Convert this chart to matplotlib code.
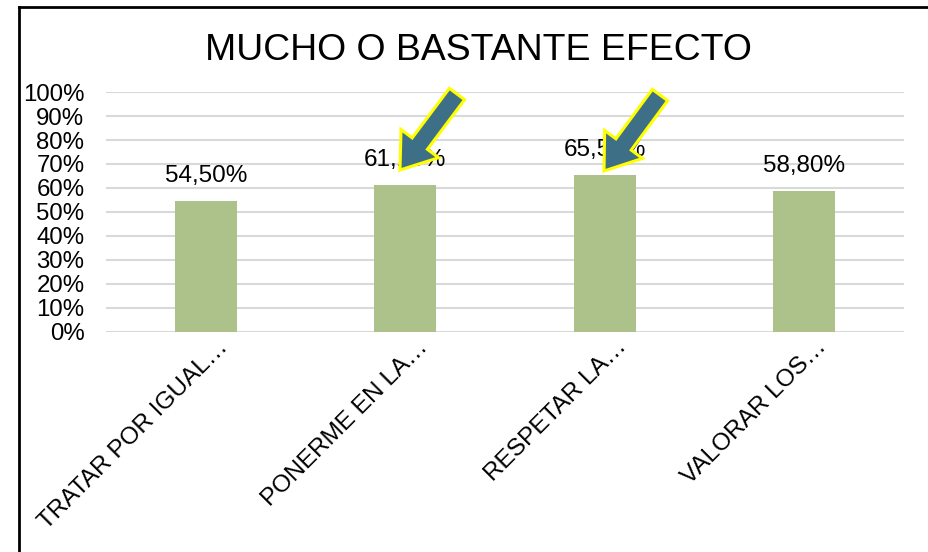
import matplotlib
matplotlib.use("Agg")
import matplotlib.pyplot as plt
import matplotlib.transforms as mtransforms
from matplotlib.patches import FancyArrow
from matplotlib.lines import Line2D
import numpy as np

plt.rcParams['font.family'] = ['Liberation Sans', 'DejaVu Sans']

title = "MUCHO O BASTANTE EFECTO"
categories = ["TRATAR POR IGUAL…", "PONERME EN LA…", "RESPETAR LA…", "VALORAR LOS…"]
values = [54.50, 61.10, 65.50, 58.80]
value_labels = ["54,50%", "61,10%", "65,50%", "58,80%"]
yticks = [0, 10, 20, 30, 40, 50, 60, 70, 80, 90, 100]
ytick_labels = [f"{t}%" for t in yticks]

W, H = 929, 552
fig = plt.figure(figsize=(W / 100, H / 100), dpi=100)
fig.patch.set_facecolor("white")

# frame lines (left and top)
fig.add_artist(Line2D([19 / W, 19 / W], [0, 1 - 7 / H], transform=fig.transFigure, color="black", lw=2))
fig.add_artist(Line2D([19 / W, 1], [1 - 7 / H, 1 - 7 / H], transform=fig.transFigure, color="black", lw=2))

ax = fig.add_axes([106 / W, (H - 332) / H, (904 - 106) / W, (332 - 92) / H])
x = np.arange(len(categories))
bars = ax.bar(x, values, width=0.31, color="#ADC18A", zorder=2)
ax.set_xlim(-0.5, len(categories) - 0.5)
ax.set_ylim(0, 100)
ax.set_yticks(yticks)
ax.set_yticklabels(ytick_labels, fontsize=17.3)
ax.yaxis.grid(True, color="#D9D9D9", lw=1.5, zorder=0)
ax.tick_params(axis="y", length=0, pad=15.5)
ax.tick_params(axis="x", length=0)
for s in ax.spines.values():
    s.set_visible(False)

ax.set_xticks(x)
ax.set_xticklabels(categories, rotation=45, ha="right", va="top", rotation_mode="anchor", fontsize=17.6)
offset = mtransforms.ScaledTranslation(11 / 100, 1 / 100, fig.dpi_scale_trans)
for lab in ax.get_xticklabels():
    lab.set_transform(lab.get_transform() + offset)

for xi, v, lbl in zip(x, values, value_labels):
    ax.annotate(lbl, (xi, v), xytext=(0, 10), textcoords="offset points",
                ha="center", va="bottom", fontsize=17.5, zorder=3)

fig.text(478 / W, 1 - 50 / H, title, ha="center", va="center", fontsize=26.9)

# highlight arrows (pixel coords -> inches)
def arrow(tail, tip):
    x0, y0 = tail[0] / 100, (H - tail[1]) / 100
    x1, y1 = tip[0] / 100, (H - tip[1]) / 100
    a = FancyArrow(x0, y0, x1 - x0, y1 - y0, width=0.19, head_width=0.47, head_length=0.33,
                   length_includes_head=True, transform=fig.dpi_scale_trans,
                   facecolor="#3D7087", edgecolor="#FFFF00", lw=2.2, zorder=10)
    fig.add_artist(a)

arrow((457, 94), (400, 170))
arrow((660, 95), (604, 171))

fig.savefig("out.png", dpi=100)
